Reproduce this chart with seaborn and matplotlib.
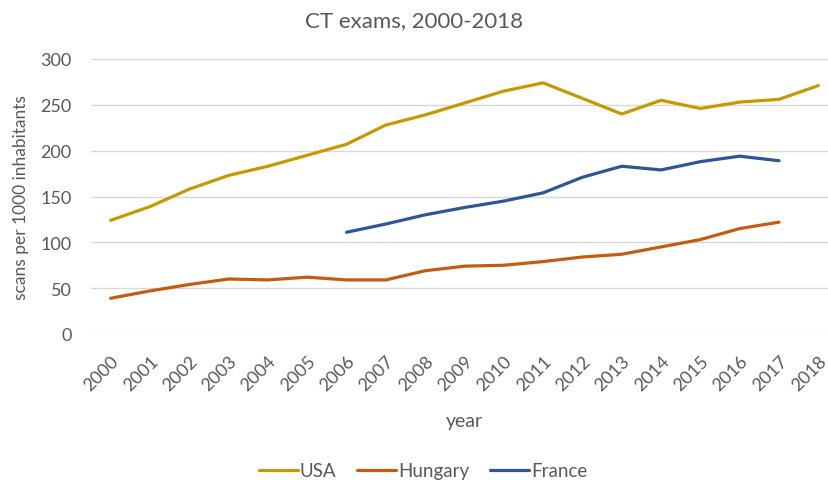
import numpy as np
import pandas as pd
import matplotlib
import matplotlib.pyplot as plt
import seaborn as sns

# data
years = list(range(2000, 2019))
usa = [124, 139, 158, 173, 183, 195, 207, 228, 239, 252, 265, 274, 257, 240, 255, 246, 253, 256, 271]
hungary = [39, 47, 54, 60, 59, 62, 59, 59, 69, 74, 75, 79, 84, 87, 95, 103, 115, 122, np.nan]
france = [np.nan] * 6 + [111, 120, 130, 138, 145, 154, 171, 183, 179, 188, 194, 189, np.nan]

countries = ["USA", "Hungary", "France"]
colours = ["#C49A00", "#C55A11", "#2F5597"]

sns.set_style("white")
matplotlib.rcParams['font.family'] = ["Lato", "DejaVu Sans"]
grey = "#595959"

df = pd.DataFrame({"year": years, "USA": usa, "Hungary": hungary, "France": france})
longDf = df.melt(id_vars="year", var_name="country", value_name="scans")
longDf["pos"] = longDf["year"] - years[0]

fig = plt.figure(figsize=(8.29, 4.81), dpi=100)
ax = fig.add_axes([91/829, 146/481, 747/829, 275/481])

sns.lineplot(data=longDf, x="pos", y="scans", hue="country", hue_order=countries,
             palette=colours, linewidth=2.3, ax=ax, legend=True)

ax.set_xlim(-0.5, len(years) - 0.5)
ax.set_ylim(0, 300)
ax.set_yticks(range(0, 301, 50))
ax.set_xticks(range(len(years)))
ax.set_xticklabels([str(y) for y in years], rotation=45, ha="right",
                   rotation_mode="anchor", fontsize=13, color=grey)
ax.tick_params("y", labelsize=13, labelcolor=grey, length=0, pad=14)
ax.tick_params("x", length=0, pad=13)
ax.grid(axis="y", color="#D9D9D9", linewidth=1)
for s in ax.spines.values():
    s.set_visible(False)

ax.set_xlabel("year", fontsize=14, color=grey, labelpad=14)
ax.set_ylabel("scans per 1000 inhabitants", fontsize=12.5, color=grey, labelpad=8)
fig.text(0.5, 1 - 21/481, "CT exams, 2000-2018", ha="center", va="center",
         fontsize=16, color=grey)

handles, labels = ax.get_legend_handles_labels()
ax.legend(handles, labels, loc="center", bbox_to_anchor=(423/829, 9/481),
          bbox_transform=fig.transFigure, ncol=3, frameon=False, fontsize=13.5,
          handlelength=2.1, handletextpad=0.1, columnspacing=1.1,
          labelcolor=grey)

plt.savefig("out.png", dpi=100)
